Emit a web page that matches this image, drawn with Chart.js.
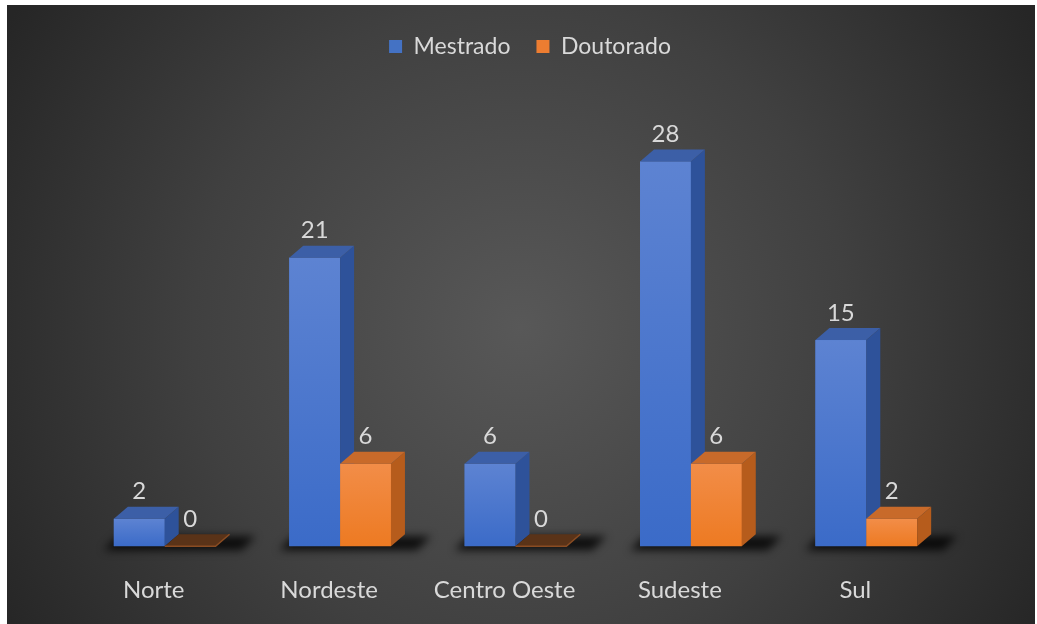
<!DOCTYPE html>
<html>
<head>
<meta charset="utf-8">
<script src="https://cdn.jsdelivr.net/npm/chart.js@4.4.1/dist/chart.umd.min.js"></script>
<style>
  html, body { margin: 0; padding: 0; background: #ffffff; overflow: hidden; }
  #wrap { position: absolute; left: 7px; top: 5px; width: 1028px; height: 619px; }
</style>
</head>
<body>
<div id="wrap"><canvas id="c"></canvas></div>
<script>
// Programas de pós-graduação por região
const regions = ['Norte', 'Nordeste', 'Centro Oeste', 'Sudeste', 'Sul'];
const mestrado = [2, 21, 6, 28, 15];
const doutorado = [0, 6, 0, 6, 2];
const seriesNames = ['Mestrado', 'Doutorado'];

const FONT = 'Lato, "Noto Sans", sans-serif';
const TEXT = '#d9d9d9';
const DX = 14, DY = 12; // depth of the extruded faces

// colours per series: front (top -> bottom), side, top
const palette = [
  { base: '#4472c4', frontTop: '#5d83d2', frontBot: '#3b6bc8', side: '#2e529a', top: '#3c5fa7' },
  { base: '#ed7d31', frontTop: '#f28d48', frontBot: '#ed7a22', side: '#b65c1c', top: '#c86a2a' }
];

// dark radial backdrop
const backdrop = {
  id: 'backdrop',
  beforeDraw(chart) {
    const { ctx, width, height } = chart;
    ctx.save();
    const g = ctx.createRadialGradient(width * 0.5, height * 0.52, 0, width * 0.5, height * 0.52, width * 0.58);
    g.addColorStop(0, '#585858');
    g.addColorStop(0.55, '#404040');
    g.addColorStop(1, '#262626');
    ctx.fillStyle = g;
    ctx.fillRect(0, 0, width, height);
    ctx.restore();
  }
};

// floor shadow under each group of bars
const floorShadow = {
  id: 'floorShadow',
  beforeDatasetsDraw(chart) {
    const { ctx } = chart;
    const m0 = chart.getDatasetMeta(0), m1 = chart.getDatasetMeta(1);
    ctx.save();
    ctx.filter = 'blur(4px)';
    ctx.fillStyle = 'rgba(0,0,0,0.8)';
    regions.forEach((_, i) => {
      const a = m0.data[i], b = m1.data[i];
      const left = a.x - a.width / 2, right = b.x + b.width / 2, base = a.base;
      ctx.beginPath();
      ctx.moveTo(left - 10, base + 4);
      ctx.lineTo(left + DX - 10, base - DY + 2);
      ctx.lineTo(right + DX + 26, base - DY + 2);
      ctx.lineTo(right + 26, base + 4);
      ctx.closePath();
      ctx.fill();
    });
    ctx.restore();
  }
};

// extruded bars with value labels
const bars3d = {
  id: 'bars3d',
  afterDatasetsDraw(chart) {
    const { ctx } = chart;
    const metas = [chart.getDatasetMeta(0), chart.getDatasetMeta(1)];
    ctx.save();
    regions.forEach((_, i) => {
      metas.forEach((meta, d) => {
        const el = meta.data[i];
        const p = palette[d];
        const left = el.x - el.width / 2, right = el.x + el.width / 2;
        const top = el.y, base = el.base;
        const h = base - top;
        if (h > 0.5) {
          const g = ctx.createLinearGradient(0, top, 0, base);
          g.addColorStop(0, p.frontTop);
          g.addColorStop(1, p.frontBot);
          ctx.fillStyle = g;
          ctx.fillRect(left, top, right - left, h);
          // side face
          ctx.fillStyle = p.side;
          ctx.beginPath();
          ctx.moveTo(right, top);
          ctx.lineTo(right + DX, top - DY);
          ctx.lineTo(right + DX, base - DY);
          ctx.lineTo(right, base);
          ctx.closePath();
          ctx.fill();
        }
        // top face
        ctx.fillStyle = h > 0.5 ? p.top : '#5a3318';
        ctx.beginPath();
        ctx.moveTo(left, top);
        ctx.lineTo(left + DX, top - DY);
        ctx.lineTo(right + DX, top - DY);
        ctx.lineTo(right, top);
        ctx.closePath();
        ctx.fill();
        if (h <= 0.5) {
          ctx.strokeStyle = '#8a4c22';
          ctx.lineWidth = 1.5;
          ctx.beginPath();
          ctx.moveTo(left, top);
          ctx.lineTo(right, top);
          ctx.lineTo(right + DX, top - DY);
          ctx.stroke();
        }
      });
    });
    // value labels
    ctx.fillStyle = TEXT;
    ctx.font = '24px ' + FONT;
    ctx.textAlign = 'center';
    ctx.textBaseline = 'middle';
    metas.forEach((meta, d) => {
      const values = chart.data.datasets[d].data;
      meta.data.forEach((el, i) => {
        ctx.fillText(String(values[i]), el.x, el.y - 27);
      });
    });
    ctx.restore();
  }
};

new Chart(document.getElementById('c'), {
  type: 'bar',
  data: {
    labels: regions,
    datasets: [
      { label: seriesNames[0], data: mestrado, backgroundColor: palette[0].base, borderWidth: 0 },
      { label: seriesNames[1], data: doutorado, backgroundColor: palette[1].base, borderWidth: 0 }
    ]
  },
  options: {
    responsive: true,
    maintainAspectRatio: false,
    animation: false,
    categoryPercentage: 0.58,
    barPercentage: 1.0,
    layout: { padding: { top: 4, bottom: -11, left: 70, right: 52 } },
    plugins: {
      legend: {
        position: 'top',
        labels: {
          color: TEXT,
          font: { family: FONT, size: 23 },
          boxWidth: 13,
          boxHeight: 13,
          padding: 26
        }
      },
      tooltip: { enabled: false }
    },
    scales: {
      x: {
        grid: { display: false, drawTicks: false },
        border: { display: false },
        ticks: {
          color: TEXT,
          font: { family: FONT, size: 24 },
          padding: 30,
          labelOffset: -11,
          maxRotation: 0,
          autoSkip: false
        }
      },
      y: {
        position: 'right',
        min: 0,
        max: 34.8,
        grid: { display: false, drawTicks: false },
        border: { display: false },
        ticks: { display: false },
        afterFit(scale) { scale.width = 29; }
      }
    }
  },
  plugins: [backdrop, floorShadow, bars3d]
});
</script>
</body>
</html>
